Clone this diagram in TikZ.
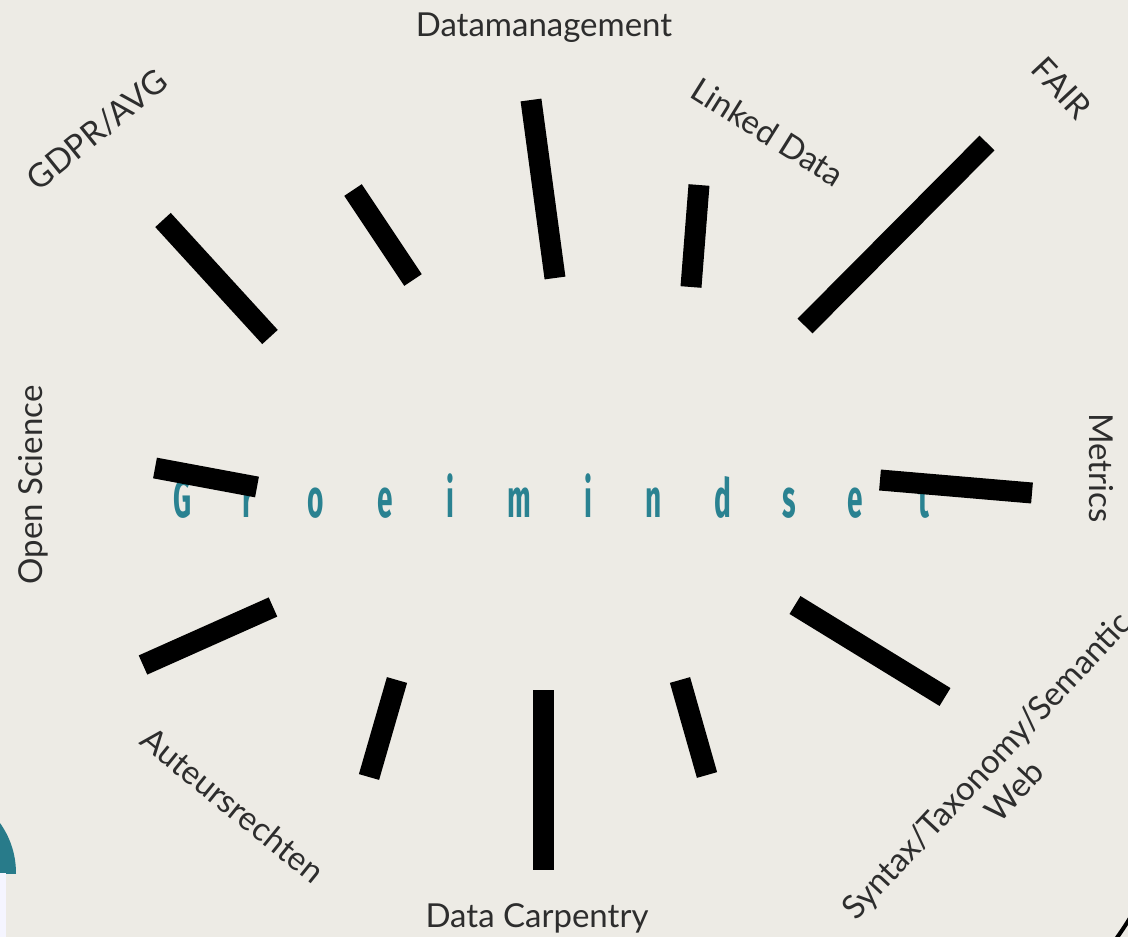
\documentclass[tikz,border=0pt]{standalone}
\usepackage{fontspec}
\setmainfont{Lato}
\newfontfamily\condfont[FakeStretch=0.52]{Fira Sans}
\usepackage{tikz}

\definecolor{leather}{RGB}{237,235,229}
\definecolor{tealtxt}{RGB}{42,130,145}
\definecolor{labelgray}{RGB}{45,45,45}

\tikzset{
    bar/.style={line width=21pt, black},
    topic/.style={text=labelgray, font=\fontsize{33}{38}\selectfont, inner sep=0pt},
    letter/.style={text=tealtxt, font=\condfont\bfseries\fontsize{54}{58}\selectfont, anchor=base, inner sep=0pt}
}

\begin{document}
\begin{tikzpicture}[x=1pt, y=-1pt]

% Border and background
\useasboundingbox (0,0) rectangle (1128,937);
\fill [leather] (0,0) rectangle (1128,937);

% Centre word
\foreach \ch/\xx [count=\i] in {G/183, r/248, o/316, e/385, i/450, m/519, i/588, n/654, d/723, s/789, e/855, t/924}
    \node [letter] (g\i) at (\xx,517) {\ch};

% Bars
\draw [bar] (163,220) to (270,337);
\draw [bar] (353,190) to (413,280);
\draw [bar] (531,100) to (555,278);
\draw [bar] (699,185) to (691,287);
\draw [bar] (987,143) to (805,326);
\draw [bar] (880,480) to (1032,493);
\draw [bar] (795,605) to (945,697);
\draw [bar] (680,680) to (707,775);
\draw [bar] (543,690) to (543,870);
\draw [bar] (397,680) to (369,777);
\draw [bar] (273,607) to (143,665);
\draw [bar] (155,468) to (257,487);

% Topics
\node [topic] (dm) at (544,28) {Datamanagement};
\node [topic, rotate=39] (gdpr) at (97,130) {GDPR/AVG};
\node [topic, rotate=-32] (ld) at (768,132) {Linked Data};
\node [topic, rotate=-47] (fair) at (1062,88) {FAIR};
\node [topic, rotate=90] (os) at (33,485) {Open Science};
\node [topic, rotate=-90] (met) at (1101,468) {Metrics};
\node [topic, rotate=47, align=center] (stx) at (1000,778) {Syntax/Taxonomy/Semantic\\Web};
\node [topic, rotate=-39] (aut) at (233,805) {Auteursrechten};
\node [topic] (dc) at (537,918) {Data Carpentry};

% Corner pieces
\begin{scope}
    \clip (0,0) rectangle (1128,873);
    \fill [tealtxt!95!black] (-70,873) circle (86pt);
\end{scope}
\fill [blue!4!white] (0,873) rectangle (6,937);
\draw [line width=4pt] (1116,939) .. controls (1121,932) and (1125,926) .. (1130,918);

\end{tikzpicture}
\end{document}
